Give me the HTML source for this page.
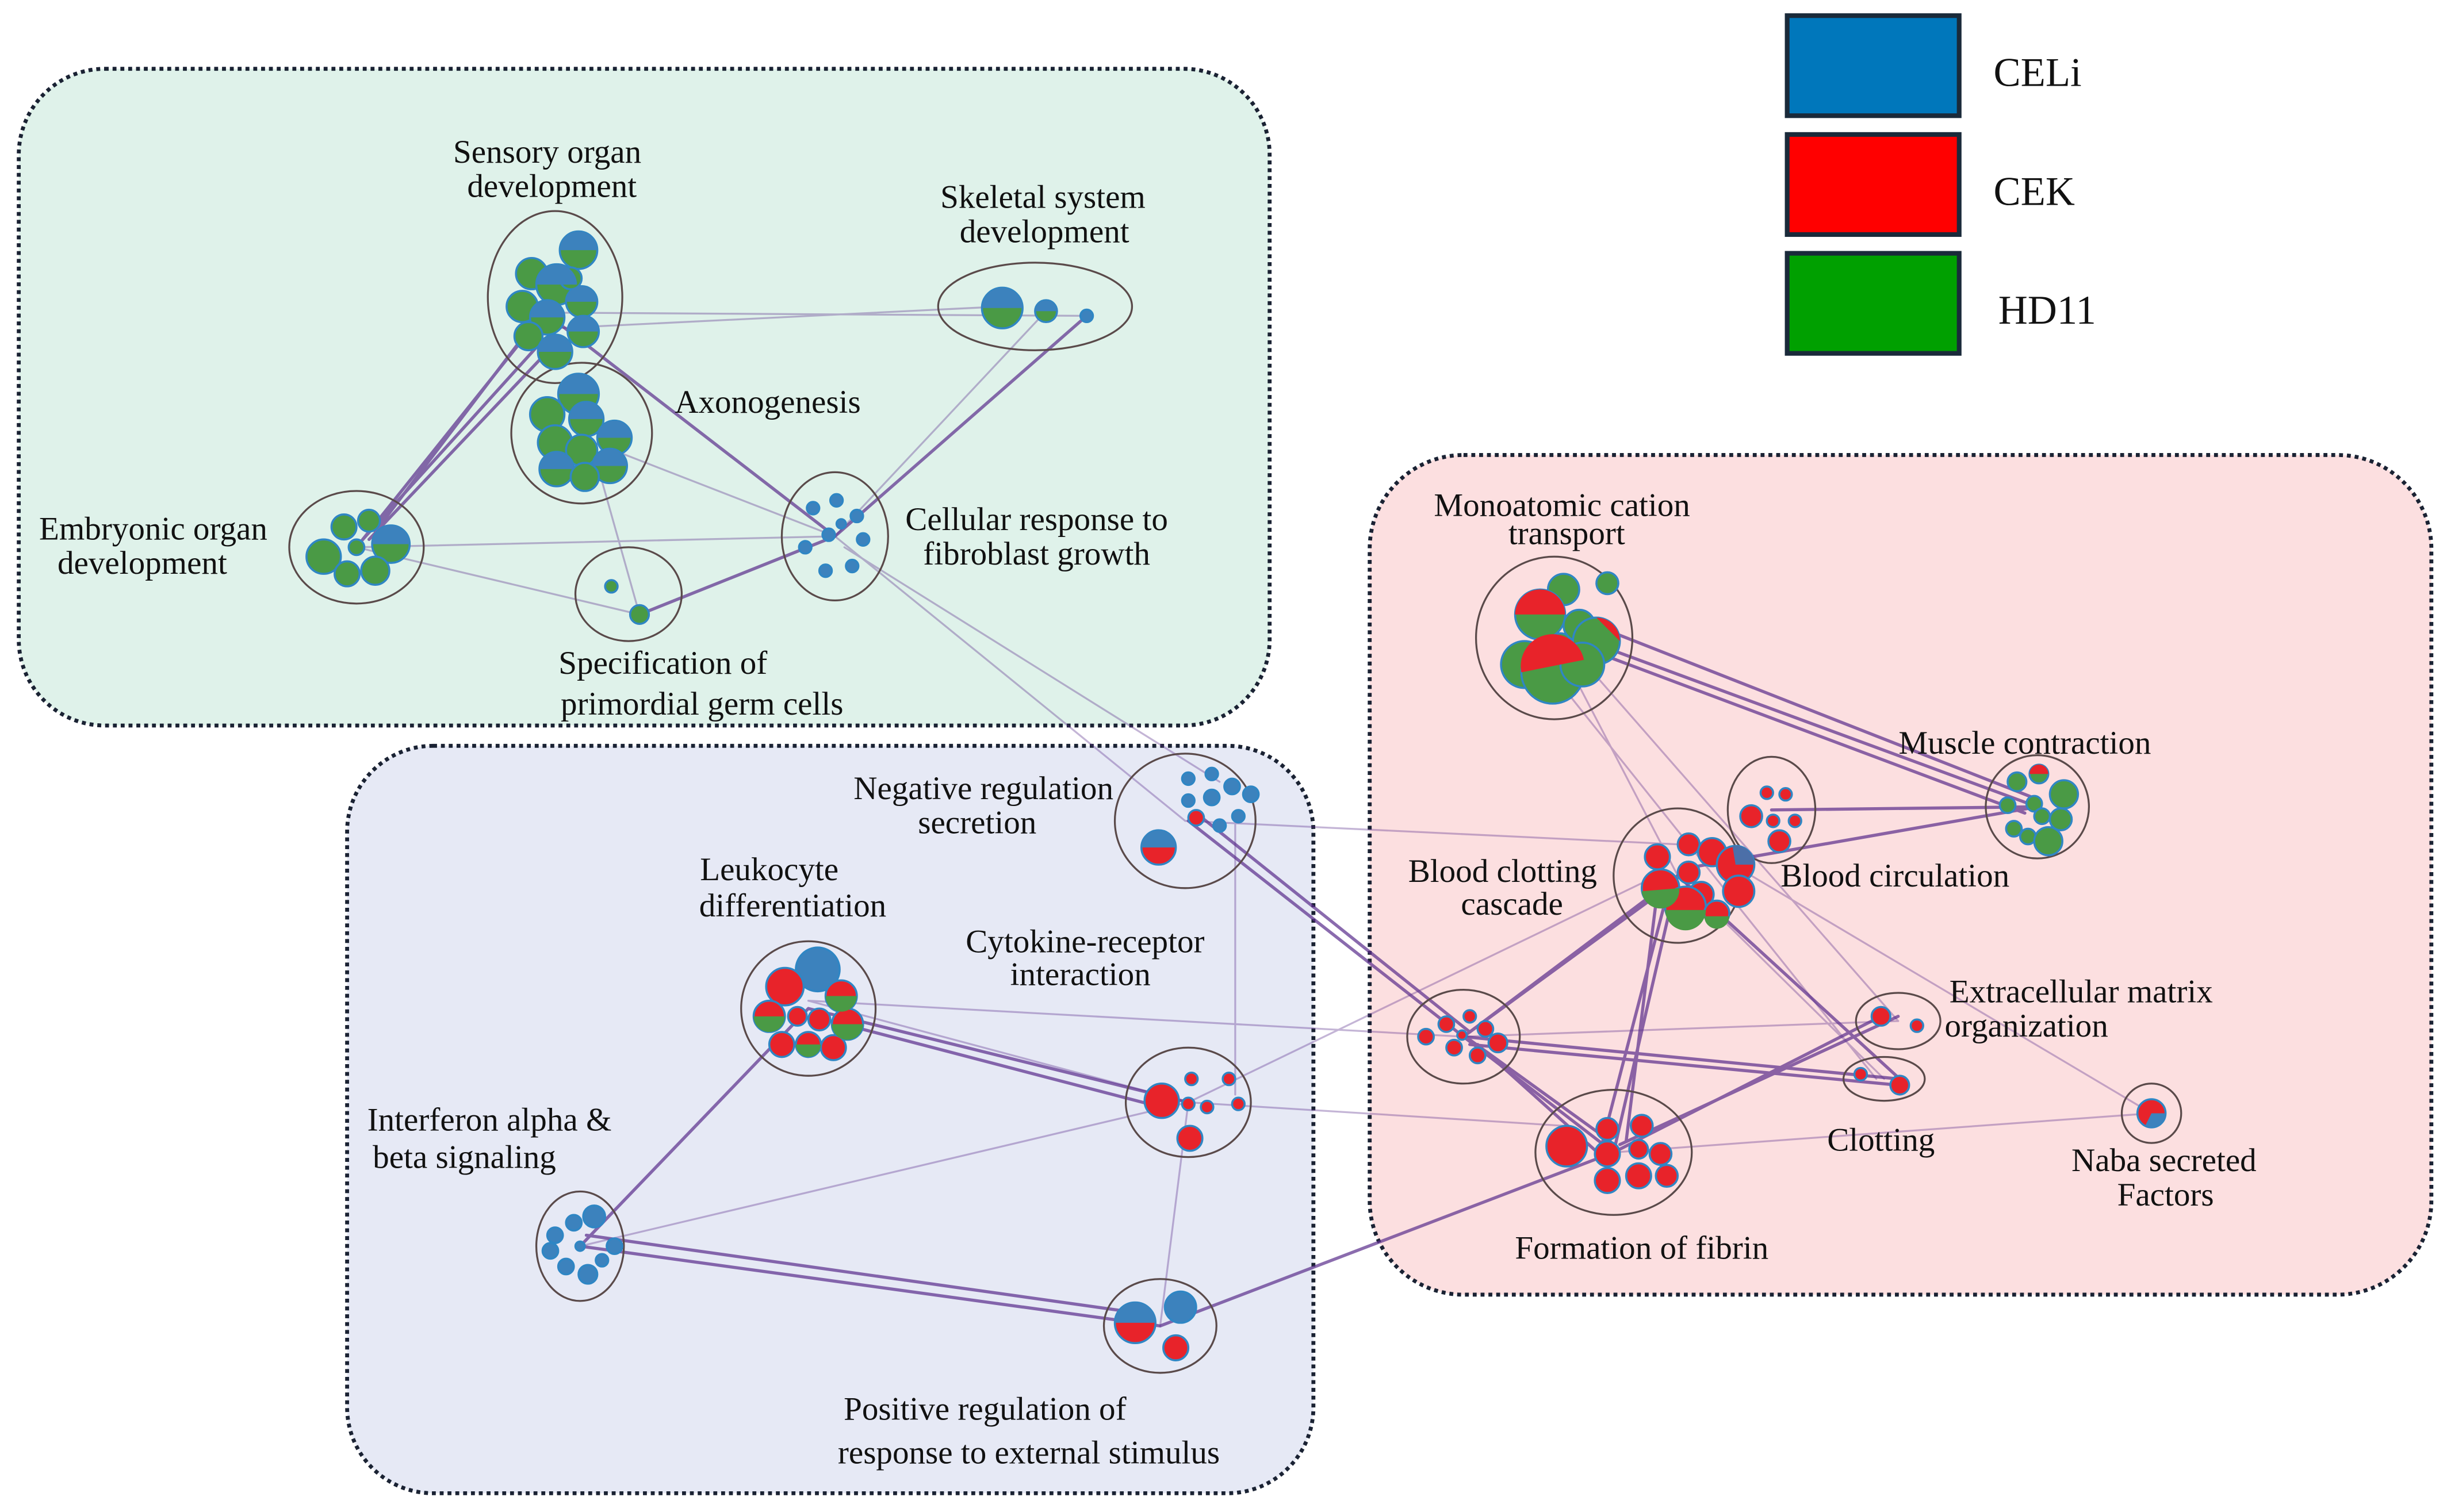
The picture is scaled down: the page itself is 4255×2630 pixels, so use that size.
<!DOCTYPE html>
<html><head><meta charset="utf-8">
<style>
html,body{margin:0;padding:0;background:#fff;}
svg{display:block;}
svg text{font-family:"Liberation Serif","DejaVu Serif",serif;fill:#111;}
</style></head>
<body>
<svg width="4255" height="2630" viewBox="0 0 1565 967" preserveAspectRatio="none" xmlns="http://www.w3.org/2000/svg" font-family="Liberation Serif, DejaVu Serif, serif">
<rect x="0" y="0" width="1565" height="967" fill="#fff"/>
<rect x="12" y="44" width="800" height="420" rx="55" fill="#dff2ea" stroke="#1a2233" stroke-width="2.5" stroke-dasharray="2.5 2.5"/>
<rect x="222" y="477" width="618" height="478" rx="55" fill="#e6e9f5" stroke="#1a2233" stroke-width="2.5" stroke-dasharray="2.5 2.5"/>
<rect x="876" y="291" width="679" height="537" rx="60" fill="#fcdfe0" stroke="#1a2233" stroke-width="2.5" stroke-dasharray="2.5 2.5"/>

<rect x="1143" y="10" width="110" height="64" fill="#0077bb" stroke="#1a2a3a" stroke-width="3"/>
<rect x="1143" y="86" width="110" height="64" fill="#ff0000" stroke="#1a2a3a" stroke-width="3"/>
<rect x="1143" y="162" width="110" height="64" fill="#00a000" stroke="#1a2a3a" stroke-width="3"/>
<text x="1275" y="55" font-size="26">CELi</text>
<text x="1275" y="131" font-size="26">CEK</text>
<text x="1278" y="207" font-size="26">HD11</text>

<g stroke="#5a2d8c" fill="none" stroke-linecap="round">
<g stroke-width="1.2" opacity="0.35">
<path d="M355 210 L641 196"/><path d="M360 200 L695 202"/>
<path d="M228 350 L534 343"/><path d="M228 350 L409 393"/>
<path d="M380 290 L409 393"/><path d="M372 280 L534 343"/>
<path d="M534 343 L669 199"/><path d="M534 343 L758 525"/>
<path d="M540 350 L780 500"/>
<path d="M517 640 L936 663"/><path d="M517 640 L760 705"/>
<path d="M371 797 L760 705"/><path d="M760 705 L1060 560"/>
<path d="M790 525 L790 700"/><path d="M742 848 L760 705"/>
<path d="M758 525 L1073 540"/><path d="M1032 737 L1376 712"/>
<path d="M994 408 L1073 560"/><path d="M1000 440 L1200 690"/>
<path d="M1120 560 L1376 712"/><path d="M936 663 L1214 653"/>
<path d="M1010 420 L1214 653"/><path d="M760 705 L1000 720"/>
<path d="M1073 560 L1205 690"/>
</g>
<g stroke-width="2" opacity="0.7">
<path d="M228 350 L340 210"/><path d="M232 345 L345 220"/><path d="M236 345 L350 225"/><path d="M240 340 L335 215"/>
<path d="M355 205 L534 343"/><path d="M534 343 L409 393"/>
<path d="M534 343 L695 202"/>
<path d="M517 645 L760 705"/><path d="M520 650 L750 710"/>
<path d="M517 645 L371 797"/><path d="M371 797 L742 848"/><path d="M375 790 L730 840"/>
<path d="M760 525 L936 663"/><path d="M765 520 L940 660"/>
<path d="M742 848 L1032 737"/>
<path d="M1010 408 L1303 516"/><path d="M1020 400 L1300 510"/><path d="M1015 415 L1295 520"/>
<path d="M1080 555 L1303 516"/><path d="M1133 518 L1303 516"/>
<path d="M936 663 L1073 560"/><path d="M940 660 L1070 565"/>
<path d="M1073 560 L1032 737"/><path d="M1068 565 L1025 730"/><path d="M1060 570 L1040 730"/>
<path d="M936 663 L1032 737"/><path d="M940 665 L1030 730"/><path d="M945 668 L1025 740"/>
<path d="M936 663 L1214 690"/><path d="M940 668 L1214 694"/>
<path d="M1032 737 L1203 650"/><path d="M1036 732 L1214 650"/>
<path d="M1073 560 L1215 690"/>
</g>
</g>

<g fill="none" stroke="#5a4a4a" stroke-width="1.2">
<ellipse cx="355" cy="190" rx="43" ry="55"/>
<ellipse cx="372" cy="277" rx="45" ry="45"/>
<ellipse cx="662" cy="196" rx="62" ry="28"/>
<ellipse cx="228" cy="350" rx="43" ry="36"/>
<ellipse cx="402" cy="380" rx="34" ry="30"/>
<ellipse cx="534" cy="343" rx="34" ry="41"/>
<ellipse cx="758" cy="525" rx="45" ry="43"/>
<ellipse cx="517" cy="645" rx="43" ry="43"/>
<ellipse cx="760" cy="705" rx="40" ry="35"/>
<ellipse cx="371" cy="797" rx="28" ry="35"/>
<ellipse cx="742" cy="848" rx="36" ry="30"/>
<ellipse cx="994" cy="408" rx="50" ry="52"/>
<ellipse cx="1303" cy="516" rx="33" ry="33"/>
<ellipse cx="1133" cy="518" rx="28" ry="34"/>
<ellipse cx="1073" cy="560" rx="41" ry="43"/>
<ellipse cx="936" cy="663" rx="36" ry="30"/>
<ellipse cx="1214" cy="653" rx="27" ry="18"/>
<ellipse cx="1205" cy="690" rx="26" ry="14"/>
<ellipse cx="1032" cy="737" rx="50" ry="40"/>
<ellipse cx="1376" cy="712" rx="19" ry="19"/>
</g>

<g stroke="#2f86c4" stroke-width="1.3">
<g fill="#4a9a45">
<circle cx="370" cy="160" r="12"/><circle cx="340" cy="175" r="10"/><circle cx="356" cy="182" r="13"/>
<circle cx="334" cy="196" r="10"/><circle cx="372" cy="193" r="10"/><circle cx="350" cy="203" r="11"/>
<circle cx="338" cy="215" r="9"/><circle cx="373" cy="212" r="10"/><circle cx="355" cy="225" r="11"/><circle cx="365" cy="178" r="7"/>
</g>
<g fill="#3c82bd" stroke="none">
<path d="M358 160 A12 12 0 0 1 382 160 Z"/><path d="M343 182 A13 13 0 0 1 369 182 Z"/>
<path d="M362 193 A10 10 0 0 1 382 193 Z"/><path d="M363 212 A10 10 0 0 1 383 212 Z"/><path d="M344 225 A11 11 0 0 1 366 225 Z"/>
<path d="M339 203 A11 11 0 0 1 361 203 Z"/>
</g>
<g fill="#4a9a45">
<circle cx="370" cy="252" r="13"/><circle cx="350" cy="265" r="11"/><circle cx="375" cy="268" r="11"/>
<circle cx="393" cy="280" r="11"/><circle cx="355" cy="283" r="11"/><circle cx="372" cy="288" r="10"/>
<circle cx="390" cy="298" r="11"/><circle cx="356" cy="300" r="11"/><circle cx="374" cy="305" r="9"/>
</g>
<g fill="#3c82bd" stroke="none">
<path d="M357 252 A13 13 0 0 1 383 252 Z"/><path d="M382 280 A11 11 0 0 1 404 280 Z"/>
<path d="M379 298 A11 11 0 0 1 401 298 Z"/><path d="M345 300 A11 11 0 0 1 367 300 Z"/><path d="M364 268 A11 11 0 0 1 386 268 Z"/>
</g>
<circle cx="641" cy="197" r="13" fill="#4a9a45"/><path d="M628 197 A13 13 0 0 1 654 197 Z" fill="#3c82bd" stroke="none"/>
<circle cx="669" cy="199" r="7" fill="#4a9a45"/><path d="M662 199 A7 7 0 0 1 676 199 Z" fill="#3c82bd" stroke="none"/>
<circle cx="695" cy="202" r="4" fill="#3c82bd"/>
<g fill="#4a9a45">
<circle cx="207" cy="356" r="11"/><circle cx="220" cy="337" r="8"/><circle cx="236" cy="333" r="7"/>
<circle cx="250" cy="348" r="12"/><circle cx="240" cy="365" r="9"/><circle cx="222" cy="367" r="8"/><circle cx="228" cy="350" r="5"/>
</g>
<path d="M238 348 A12 12 0 0 1 262 348 Z" fill="#3c82bd" stroke="none"/>
<circle cx="391" cy="375" r="4" fill="#4a9a45"/><circle cx="409" cy="393" r="6" fill="#4a9a45"/>
<g fill="#3c82bd">
<circle cx="520" cy="325" r="4"/><circle cx="535" cy="320" r="4"/><circle cx="548" cy="330" r="4"/><circle cx="552" cy="345" r="4"/>
<circle cx="545" cy="362" r="4"/><circle cx="528" cy="365" r="4"/><circle cx="515" cy="350" r="4"/><circle cx="530" cy="342" r="4"/><circle cx="538" cy="335" r="3"/>
</g>
<g fill="#3c82bd">
<circle cx="760" cy="498" r="4"/><circle cx="775" cy="495" r="4"/><circle cx="788" cy="503" r="5"/><circle cx="800" cy="508" r="5"/>
<circle cx="775" cy="510" r="5"/><circle cx="792" cy="522" r="4"/><circle cx="780" cy="528" r="4"/><circle cx="760" cy="512" r="4"/>
</g>
<circle cx="765" cy="523" r="5" fill="#e8232a"/>
<circle cx="741" cy="542" r="11" fill="#e8232a"/><path d="M730 542 A11 11 0 0 1 752 542 Z" fill="#3c82bd" stroke="none"/>
<circle cx="523" cy="620" r="14" fill="#3c82bd"/>
<g fill="#e8232a">
<circle cx="502" cy="631" r="12"/><circle cx="538" cy="637" r="10"/><circle cx="492" cy="650" r="10"/><circle cx="510" cy="650" r="6"/>
<circle cx="524" cy="652" r="7"/><circle cx="542" cy="655" r="10"/><circle cx="500" cy="668" r="8"/><circle cx="517" cy="668" r="8"/><circle cx="533" cy="670" r="8"/>
</g>
<g fill="#4a9a45" stroke="none">
<path d="M482 650 A10 10 0 0 0 502 650 Z"/><path d="M532 655 A10 10 0 0 0 552 655 Z"/><path d="M509 668 A8 8 0 0 0 525 668 Z"/><path d="M528 637 A10 10 0 0 0 548 637 Z"/>
</g>
<circle cx="743" cy="704" r="11" fill="#e8232a"/><circle cx="761" cy="728" r="8" fill="#e8232a"/>
<circle cx="762" cy="690" r="4" fill="#e8232a"/><circle cx="786" cy="690" r="4" fill="#e8232a"/>
<circle cx="772" cy="708" r="4" fill="#e8232a"/><circle cx="760" cy="706" r="4" fill="#e8232a"/><circle cx="792" cy="706" r="4" fill="#e8232a"/>
<g fill="#3c82bd">
<circle cx="380" cy="778" r="7"/><circle cx="367" cy="782" r="5"/><circle cx="355" cy="790" r="5"/><circle cx="393" cy="797" r="5"/>
<circle cx="352" cy="800" r="5"/><circle cx="362" cy="810" r="5"/><circle cx="376" cy="815" r="6"/><circle cx="385" cy="806" r="4"/><circle cx="371" cy="797" r="3"/>
</g>
<circle cx="726" cy="846" r="13" fill="#e8232a"/><path d="M713 846 A13 13 0 0 1 739 846 Z" fill="#3c82bd" stroke="none"/>
<circle cx="755" cy="836" r="10" fill="#3c82bd"/><circle cx="752" cy="862" r="8" fill="#e8232a"/>
<g fill="#4a9a45">
<circle cx="1000" cy="377" r="10"/><circle cx="1028" cy="373" r="7"/><circle cx="985" cy="393" r="16"/><circle cx="1010" cy="400" r="10"/>
<circle cx="1021" cy="410" r="15"/><circle cx="975" cy="425" r="15"/><circle cx="993" cy="430" r="20"/><circle cx="1012" cy="425" r="14"/><circle cx="998" cy="412" r="7"/>
</g>
<g fill="#e8232a" stroke="none">
<path d="M969 393 A16 16 0 0 1 1001 393 Z"/><path d="M973 430 A20 20 0 0 1 1013 422 Z"/><path d="M1021 395 A15 15 0 0 1 1036 410 Z"/>
</g>
<g fill="#4a9a45">
<circle cx="1290" cy="500" r="6"/><circle cx="1304" cy="495" r="6"/><circle cx="1320" cy="508" r="9"/><circle cx="1284" cy="515" r="5"/>
<circle cx="1301" cy="514" r="5"/><circle cx="1318" cy="524" r="7"/><circle cx="1288" cy="530" r="5"/><circle cx="1297" cy="535" r="5"/><circle cx="1310" cy="538" r="9"/><circle cx="1306" cy="522" r="5"/>
</g>
<path d="M1298 495 A6 6 0 0 1 1310 495 Z" fill="#e8232a" stroke="none"/>
<g fill="#e8232a">
<circle cx="1130" cy="507" r="4"/><circle cx="1142" cy="508" r="4"/><circle cx="1120" cy="522" r="7"/>
<circle cx="1134" cy="525" r="4"/><circle cx="1148" cy="525" r="4"/><circle cx="1138" cy="538" r="7"/>
</g>
<g fill="#e8232a">
<circle cx="1060" cy="548" r="8"/><circle cx="1080" cy="540" r="7"/><circle cx="1095" cy="545" r="9"/><circle cx="1110" cy="553" r="12"/>
<circle cx="1062" cy="568" r="12"/><circle cx="1080" cy="558" r="7"/><circle cx="1088" cy="572" r="8"/><circle cx="1112" cy="570" r="10"/>
<circle cx="1078" cy="580" r="13"/><circle cx="1098" cy="584" r="8"/>
</g>
<path d="M1108 541 A12 12 0 0 1 1122 553 L1110 553 Z" fill="#4c6fa8" stroke="none"/>
<g fill="#4a9a45" stroke="none">
<path d="M1050 570 A12 12 0 0 0 1074 568 Z"/><path d="M1065 582 A13 13 0 0 0 1091 582 Z"/><path d="M1090 586 A8 8 0 0 0 1106 586 Z"/>
</g>
<g fill="#e8232a">
<circle cx="912" cy="663" r="5"/><circle cx="925" cy="655" r="5"/><circle cx="940" cy="650" r="4"/><circle cx="950" cy="658" r="5"/>
<circle cx="958" cy="667" r="6"/><circle cx="930" cy="670" r="5"/><circle cx="945" cy="675" r="5"/><circle cx="935" cy="662" r="3"/>
</g>
<circle cx="1203" cy="650" r="6" fill="#e8232a"/><circle cx="1226" cy="656" r="4" fill="#e8232a"/>
<circle cx="1190" cy="687" r="4" fill="#e8232a"/><circle cx="1215" cy="694" r="6" fill="#e8232a"/>
<circle cx="1002" cy="733" r="13" fill="#e8232a"/>
<g fill="#e8232a">
<circle cx="1028" cy="722" r="7"/><circle cx="1050" cy="720" r="7"/><circle cx="1028" cy="738" r="8"/><circle cx="1048" cy="735" r="6"/>
<circle cx="1062" cy="738" r="7"/><circle cx="1028" cy="755" r="8"/><circle cx="1048" cy="752" r="8"/><circle cx="1066" cy="752" r="7"/>
</g>
<circle cx="1376" cy="712" r="9" fill="#e8232a"/><path d="M1376 712 L1385 712 A9 9 0 0 1 1372 720 Z" fill="#3c82bd" stroke="none"/>
</g>

<g font-size="21" text-anchor="middle" font-family="Liberation Serif, DejaVu Serif, serif">
<text x="350" y="104">Sensory organ</text><text x="353" y="126">development</text>
<text x="667" y="133">Skeletal system</text><text x="668" y="155">development</text>
<text x="491" y="264">Axonogenesis</text>
<text x="98" y="345">Embryonic organ</text><text x="91" y="367">development</text>
<text x="663" y="339">Cellular response to</text><text x="663" y="361">fibroblast growth</text>
<text x="424" y="431">Specification of</text><text x="449" y="457">primordial germ cells</text>
<text x="629" y="511">Negative regulation</text><text x="625" y="533">secretion</text>
<text x="492" y="563">Leukocyte</text><text x="507" y="586">differentiation</text>
<text x="694" y="609">Cytokine-receptor</text><text x="691" y="630">interaction</text>
<text x="313" y="723">Interferon alpha &amp;</text><text x="297" y="747">beta signaling</text>
<text x="630" y="908">Positive regulation of</text><text x="658" y="936">response to external stimulus</text>
<text x="999" y="330">Monoatomic cation</text><text x="1002" y="348">transport</text>
<text x="1295" y="482">Muscle contraction</text>
<text x="961" y="564">Blood clotting</text><text x="967" y="585">cascade</text>
<text x="1212" y="567">Blood circulation</text>
<text x="1331" y="641">Extracellular matrix</text><text x="1296" y="663">organization</text>
<text x="1203" y="736">Clotting</text>
<text x="1384" y="749">Naba secreted</text><text x="1385" y="771">Factors</text>
<text x="1050" y="805">Formation of fibrin</text>
</g>
</svg>
</body></html>
